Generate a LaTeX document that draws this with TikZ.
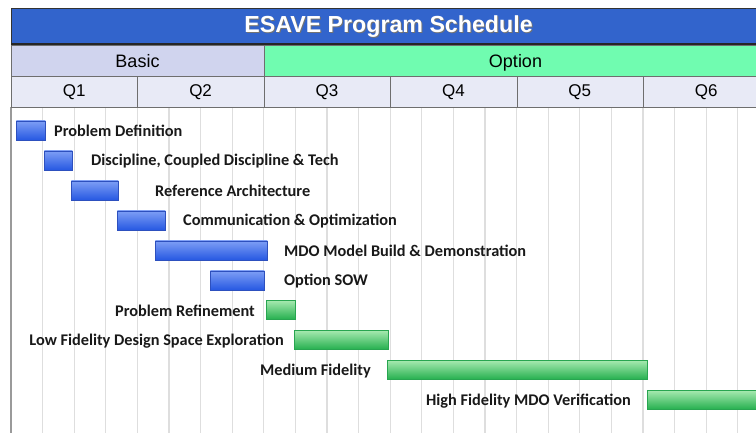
\documentclass[tikz,border=0pt]{standalone}
\usepackage{fontspec}
\setmainfont{Liberation Sans}
\newfontfamily\barfont{Carlito}
\definecolor{titleblue}{RGB}{50,100,204}
\definecolor{basicfill}{RGB}{208,212,238}
\definecolor{optionfill}{RGB}{112,252,176}
\definecolor{qfill}{RGB}{232,234,246}
\definecolor{gridgray}{RGB}{222,222,222}
\definecolor{rulegray}{RGB}{110,110,110}
\definecolor{bluetop}{RGB}{125,158,245}
\definecolor{bluebot}{RGB}{38,88,226}
\definecolor{blueedge}{RGB}{45,80,190}
\definecolor{greentop}{RGB}{165,232,175}
\definecolor{greenbot}{RGB}{36,176,78}
\definecolor{greenedge}{RGB}{40,165,80}
\begin{document}
\begin{tikzpicture}[x=1pt,y=-1pt,
  gridline/.style={gridgray, line width=1.2pt},
  hdrcell/.style={draw=rulegray, line width=0.8pt, anchor=north west, inner sep=0pt},
  qlabel/.style={font=\fontsize{17}{17}\selectfont, text=black},
  bluebar/.style={draw=blueedge, line width=0.6pt, top color=bluetop, bottom color=bluebot,
    minimum height=19pt, inner sep=0pt, anchor=west},
  greenbar/.style={draw=greenedge, line width=0.6pt, top color=greentop, bottom color=greenbot,
    minimum height=19pt, inner sep=0pt, anchor=west},
  tasklabel/.style={font=\barfont\bfseries\fontsize{16.3}{16.3}\selectfont, text=black!90, inner sep=0pt}]
\useasboundingbox (0,0) rectangle (756,433);
\fill[white] (0,0) rectangle (756,433);

% monthly grid lines
\foreach \k in {1,...,23}
  \draw[gridline] ({11+31.6*\k},107) -- ({11+31.6*\k},433);
\draw[rulegray!70, line width=2pt] (11,107) -- (11,433);

% title bar
\node[hdrcell, draw=black!80, fill=titleblue, minimum width=750pt, minimum height=36pt] (titlebar) at (11,8) {};
\draw[black!85, line width=1.6pt] (11,44) -- (761,44);
\node[text=black!55, font=\bfseries\fontsize{23.2}{23.2}\selectfont] (titleshadow) at (389.5,27.5) {ESAVE Program Schedule};
\node[text=white, font=\bfseries\fontsize{23.2}{23.2}\selectfont] (title) at (388.5,26.5) {ESAVE Program Schedule};

% contract phases
\node[hdrcell, fill=basicfill, minimum width=253pt, minimum height=31pt] (basic) at (11,45) {};
\node[hdrcell, fill=optionfill, minimum width=497pt, minimum height=31pt] (option) at (264,45) {};
\node[qlabel, font=\fontsize{18}{18}\selectfont] (basictext) at (137.5,61) {Basic};
\node[qlabel, font=\fontsize{18}{18}\selectfont, anchor=base] (optiontext) at (515.5,67.5) {Option};

% quarters
\foreach \q [count=\i from 0] in {Q1,Q2,Q3,Q4,Q5,Q6} {
  \node[hdrcell, fill=qfill, minimum width=126.4pt, minimum height=31pt] (cell\q) at ({11+126.4*\i},76) {};
  \node[qlabel] (lab\q) at ({74.2+126.4*\i},92) {\q};
}

% basic-phase tasks
\node[bluebar, minimum width=29pt] (b1) at (16,130.5) {};
\node[bluebar, minimum width=28pt] (b2) at (44,160.5) {};
\node[bluebar, minimum width=47pt] (b3) at (71,190.5) {};
\node[bluebar, minimum width=48pt] (b4) at (117,220.5) {};
\node[bluebar, minimum width=112pt] (b5) at (155,250.5) {};
\node[bluebar, minimum width=54pt] (b6) at (210,280.5) {};

% option-phase tasks
\node[greenbar, minimum width=29pt] (g1) at (266,310) {};
\node[greenbar, minimum width=94pt] (g2) at (294,340) {};
\node[greenbar, minimum width=260pt] (g3) at (387,370) {};
\node[greenbar, minimum width=120pt] (g4) at (647,400) {};

% task names
\node[tasklabel, anchor=west] (t1) at (54,131) {Problem Definition};
\node[tasklabel, anchor=west] (t2) at (91,161) {Discipline, Coupled Discipline \& Tech};
\node[tasklabel, anchor=west] (t3) at (155,191) {Reference Architecture};
\node[tasklabel, anchor=west] (t4) at (183,221) {Communication \& Optimization};
\node[tasklabel, anchor=west] (t5) at (284,251) {MDO Model Build \& Demonstration};
\node[tasklabel, anchor=west] (t6) at (284,281) {Option SOW};
\node[tasklabel, anchor=east] (t7) at (255,311) {Problem Refinement};
\node[tasklabel, anchor=east] (t8) at (284,341) {Low Fidelity Design Space Exploration};
\node[tasklabel, anchor=east] (t9) at (371,371) {Medium Fidelity};
\node[tasklabel, anchor=east] (t10) at (631,401) {High Fidelity MDO Verification};
\end{tikzpicture}
\end{document}
